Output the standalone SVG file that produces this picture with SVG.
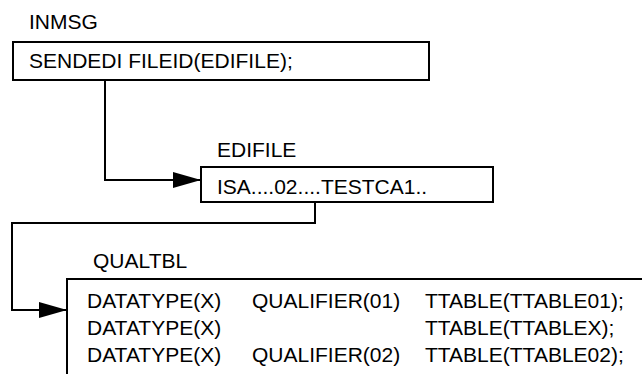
<svg xmlns="http://www.w3.org/2000/svg" width="642" height="374" viewBox="0 0 642 374">
<defs>
<style>
text{font-family:"Liberation Sans",Arial,sans-serif;font-size:21px;fill:#000}
.box{fill:#fff;stroke:#000;stroke-width:2}
.ln{fill:none;stroke:#000;stroke-width:2}
</style>
<marker id="ah" markerWidth="28" markerHeight="16" refX="28" refY="8" orient="auto" markerUnits="userSpaceOnUse">
<path d="M0,0 L28,8 L0,16 Z" fill="#000"/>
</marker>
</defs>
<g id="connectors">
<path class="ln" d="M105,80 V180 H201" marker-end="url(#ah)"/>
<path class="ln" d="M315,202 V223 H12 V310 H67" marker-end="url(#ah)"/>
</g>
<g id="inmsg">
<text x="29" y="29">INMSG</text>
<rect class="box" x="13" y="42" width="416" height="38"/>
<text x="29" y="68">SENDEDI FILEID(EDIFILE);</text>
</g>
<g id="edifile">
<text x="217" y="157">EDIFILE</text>
<rect class="box" x="201" y="167" width="292" height="35"/>
<text x="217" y="194">ISA....02....TESTCA1..</text>
</g>
<g id="qualtbl">
<text x="93" y="268">QUALTBL</text>
<rect class="box" x="67" y="279" width="600" height="120"/>
<text x="87" y="308">DATATYPE(X)</text>
<text x="252" y="308">QUALIFIER(01)</text>
<text x="425" y="308">TTABLE(TTABLE01);</text>
<text x="87" y="335">DATATYPE(X)</text>
<text x="425" y="335">TTABLE(TTABLEX);</text>
<text x="87" y="362">DATATYPE(X)</text>
<text x="252" y="362">QUALIFIER(02)</text>
<text x="425" y="362">TTABLE(TTABLE02);</text>
</g>
</svg>
